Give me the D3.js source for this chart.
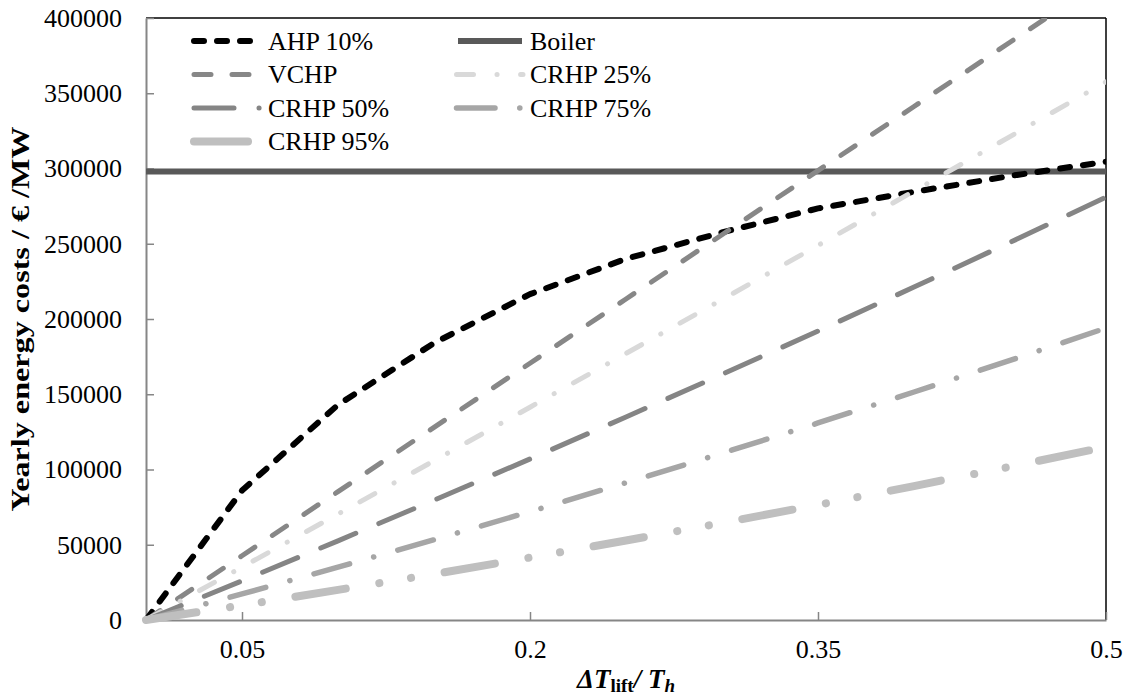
<!DOCTYPE html>
<html>
<head>
<meta charset="utf-8">
<script src="https://cdn.jsdelivr.net/npm/d3@7"></script>
<style>
  html, body { margin: 0; padding: 0; background: #fff; }
  svg { display: block; }
  text { font-family: "Liberation Serif", "Times New Roman", serif; fill: #000; }
</style>
</head>
<body>
<svg id="chart" width="1127" height="700"></svg>
<script>
// ---- data ----
const xValues = [0, 0.05, 0.10, 0.15, 0.20, 0.25, 0.30, 0.35, 0.40, 0.45, 0.50];
const ahp10   = [0, 86000, 143000, 184000, 216500, 240000, 257500, 273500, 284500, 295000, 304500];
const boiler  = [298000, 298000, 298000, 298000, 298000, 298000, 298000, 298000, 298000, 298000, 298000];
const vchp    = [0, 42700, 85300, 128000, 170600, 213300, 256000, 298600, 341200, 383900, 426500];
const crhp25  = [0, 35100, 70400, 105800, 141400, 177100, 212900, 248900, 285000, 321200, 357600];
const crhp50  = [0, 26000, 52600, 79600, 107000, 134900, 163200, 192000, 221200, 250900, 281000];
const crhp75  = [0, 17300, 35100, 53300, 72000, 91200, 110800, 130900, 151500, 172500, 194000];
const crhp95  = [0, 9800, 20000, 30500, 41500, 52800, 64500, 76500, 89000, 101800, 115000];
const seriesNames = ["AHP 10%", "Boiler", "VCHP", "CRHP 25%", "CRHP 50%", "CRHP 75%", "CRHP 95%"];
const seriesValues = [ahp10, boiler, vchp, crhp25, crhp50, crhp75, crhp95];
const xTicks = [0.05, 0.2, 0.35, 0.5];
const yTicks = [0, 50000, 100000, 150000, 200000, 250000, 300000, 350000, 400000];

// ---- styles ----
const styles = [
  { color: "#000000", width: 6,   dash: "10,13",             legendDash: "10,13" },
  { color: "#595959", width: 6,   dash: null,                legendDash: null },
  { color: "#878787", width: 5,   dash: "17,21",             legendDash: "17,21" },
  { color: "#D9D9D9", width: 5,   dash: "17,22,0.1,22",      legendDash: "17,23.5,0.1,23.5" },
  { color: "#858585", width: 5,   dash: "38,25",             legendDash: "40,25,0.1,100" },
  { color: "#A6A6A6", width: 5.5, dash: "37,25,0.1,25",      legendDash: "38.5,24.75,0.1,100" },
  { color: "#BFBFBF", width: 8,   dash: "51,34,0.1,32,0.1,34", legendDash: "54,100" }
];
const legendPos = [
  { col: 0, row: 0 }, { col: 1, row: 0 },
  { col: 0, row: 1 }, { col: 1, row: 1 },
  { col: 0, row: 2 }, { col: 1, row: 2 },
  { col: 0, row: 3 }
];

const svg = d3.select("#chart");
const L = 146, R = 1106, T = 18, B = 620;
const x = d3.scaleLinear().domain([0, 0.5]).range([L, R]);
const y = d3.scaleLinear().domain([0, 400000]).range([B, T]);

svg.append("defs").append("clipPath").attr("id", "clip")
  .append("rect").attr("x", 0).attr("y", T).attr("width", R).attr("height", 700 - T);

// plot border (top/right black)
svg.append("line").attr("x1", L).attr("x2", R).attr("y1", T).attr("y2", T)
  .attr("stroke", "#000").attr("stroke-width", 1.5);
svg.append("line").attr("x1", R).attr("x2", R).attr("y1", T).attr("y2", B)
  .attr("stroke", "#000").attr("stroke-width", 1.5);

// axes
const yAxis = d3.axisLeft(y).tickValues(yTicks).tickSizeInner(-8).tickSizeOuter(0)
  .tickPadding(24).tickFormat(d3.format("d"));
const gy = svg.append("g").attr("transform", `translate(${L},0)`).call(yAxis);
gy.select(".domain").attr("stroke", "#868686").attr("stroke-width", 2);
gy.selectAll(".tick line").attr("stroke", "#868686").attr("stroke-width", 1.5);
gy.selectAll(".tick text").attr("font-size", 26).attr("font-family", "Liberation Serif").attr("fill", "#000");

const xAxis = d3.axisBottom(x).tickValues(xTicks).tickSizeInner(-8).tickSizeOuter(0)
  .tickPadding(20).tickFormat(d => String(d));
const gx = svg.append("g").attr("transform", `translate(0,${B})`).call(xAxis);
gx.select(".domain").attr("stroke", "#868686").attr("stroke-width", 2);
gx.selectAll(".tick line").attr("stroke", "#868686").attr("stroke-width", 1.5);
gx.selectAll(".tick text").attr("font-size", 26).attr("font-family", "Liberation Serif").attr("fill", "#000");

// series
const line = d3.line().x((d, i) => x(xValues[i])).y(d => y(d));
const plot = svg.append("g").attr("clip-path", "url(#clip)");
const order = [1, 0, 2, 3, 4, 5, 6];
order.forEach(i => {
  const s = styles[i];
  plot.append("path")
    .datum(seriesValues[i])
    .attr("d", line)
    .attr("fill", "none")
    .attr("stroke", s.color)
    .attr("stroke-width", s.width)
    .attr("stroke-linecap", s.dash ? "round" : "butt")
    .attr("stroke-linejoin", "round")
    .attr("stroke-dasharray", s.dash);
});

// legend
const colX = [194, 456.5], rowY = [41, 74.5, 108, 141.5], textX = [268, 530];
seriesNames.forEach((name, i) => {
  const p = legendPos[i], s = styles[i];
  const g = svg.append("g");
  const x1 = i === 1 ? 458 : colX[p.col];
  const x2 = i === 1 ? 522 : (p.col === 0 ? 259.2 : 523);
  g.append("line")
    .attr("x1", x1).attr("x2", x2)
    .attr("y1", rowY[p.row]).attr("y2", rowY[p.row])
    .attr("stroke", s.color).attr("stroke-width", s.width)
    .attr("stroke-linecap", s.dash ? "round" : "butt")
    .attr("stroke-dasharray", s.legendDash);
  g.append("text").attr("x", textX[p.col]).attr("y", rowY[p.row]).attr("dy", "0.34em")
    .attr("font-size", 26).text(name);
});

// y axis title
svg.append("text")
  .attr("transform", `translate(29,${(T + B) / 2}) rotate(-90)`)
  .attr("text-anchor", "middle")
  .attr("font-size", 25).attr("font-weight", "bold")
  .attr("textLength", 385).attr("lengthAdjust", "spacingAndGlyphs")
  .text("Yearly energy costs /  € /MW");

// x axis title
const xt = svg.append("text").attr("x", (L + R) / 2).attr("y", 688)
  .attr("text-anchor", "middle").attr("font-weight", "bold").attr("font-style", "italic")
  .attr("font-size", 27);
xt.append("tspan").text("ΔT");
xt.append("tspan").attr("font-size", 19).attr("font-style", "normal").attr("dy", 4).text("lift");
xt.append("tspan").attr("dy", -4).text("/ T");
xt.append("tspan").attr("font-size", 19).attr("dy", 4).text("h");
</script>
</body>
</html>
